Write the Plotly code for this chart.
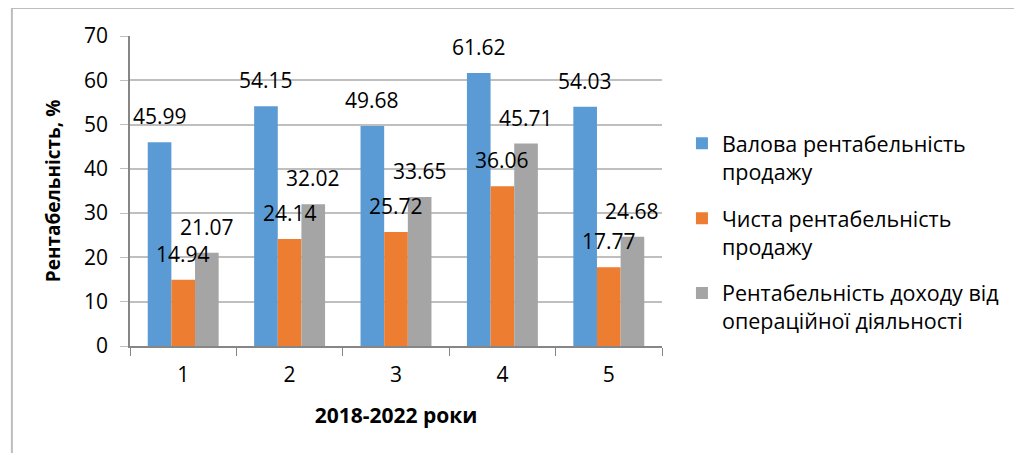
import plotly.graph_objects as go

# ── Data ───────────────────────────────────────────────
years = ["1", "2", "3", "4", "5"]
gross_margin = [45.99, 54.15, 49.68, 61.62, 54.03]
net_margin = [14.94, 24.14, 25.72, 36.06, 17.77]
operating_margin = [21.07, 32.02, 33.65, 45.71, 24.68]

series_names = [
    "Валова рентабельність<br>продажу",
    "Чиста рентабельність<br>продажу",
    "Рентабельність доходу від<br>операційної діяльності",
]
series_colors = ["#5B9BD5", "#ED7D31", "#A5A5A5"]
y_ticks = [0, 10, 20, 30, 40, 50, 60, 70]

FONT = "Open Sans, sans-serif"
BAR_GAP = 1 / 3  # Excel gap width 150%

fig = go.Figure()
all_series = [gross_margin, net_margin, operating_margin]
for name, vals, color in zip(series_names, all_series, series_colors):
    fig.add_trace(go.Bar(
        x=years, y=vals, name=name, legendgroup=name,
        marker=dict(color=color, line=dict(width=0)),
        hoverinfo="x+y",
    ))

# data labels, offset above each bar like Excel "outside end"
bar_w = (1 - BAR_GAP) / len(all_series)
annotations = []
for s_idx, vals in enumerate(all_series):
    offset = (s_idx - (len(all_series) - 1) / 2) * bar_w
    for c_idx, v in enumerate(vals):
        annotations.append(dict(
            x=c_idx + offset, y=v, xref="x", yref="y",
            text=f"{v:.2f}", showarrow=False,
            yanchor="bottom", yshift=10,
            font=dict(family=FONT, size=21, color="#000000"),
        ))

fig.update_layout(
    width=1022, height=453,
    paper_bgcolor="white", plot_bgcolor="white",
    margin=dict(l=122, r=368, t=28, b=115),
    barmode="group", bargap=BAR_GAP, bargroupgap=0,
    font=dict(family=FONT, size=21, color="#000000"),
    annotations=annotations,
    xaxis=dict(
        type="category", showgrid=False,
        showline=True, linecolor="#868686", linewidth=1.5,
        ticks="outside", tickson="boundaries", ticklen=8, tickcolor="#868686",
        tickfont=dict(size=21), ticklabelstandoff=9,
        title=dict(text="<b>2018-2022 роки</b>", font=dict(size=21), standoff=21),
    ),
    yaxis=dict(
        range=[0, 70], tickvals=y_ticks,
        showgrid=True, gridcolor="#BFBFBF", gridwidth=1.5,
        showline=True, linecolor="#868686", linewidth=1.5,
        ticks="outside", ticklen=8, tickcolor="#BFBFBF",
        tickfont=dict(size=21), zeroline=False, ticklabelstandoff=8,
        title=dict(text="<b>Рентабельність, %</b>", font=dict(size=19), standoff=18),
    ),
    legend=dict(
        x=1.0375, y=0.72, xanchor="left", yanchor="top",
        font=dict(size=21.5), tracegroupgap=16, valign="top",
        bgcolor="rgba(0,0,0,0)",
    ),
    showlegend=True,
    shapes=[dict(
        type="rect", xref="paper", yref="paper",
        x0=-0.222, x1=1.7, y0=-0.4, y1=1.09,
        line=dict(color="#BDBDBD", width=2), layer="below",
    )],
)

fig.write_html("out.html")
